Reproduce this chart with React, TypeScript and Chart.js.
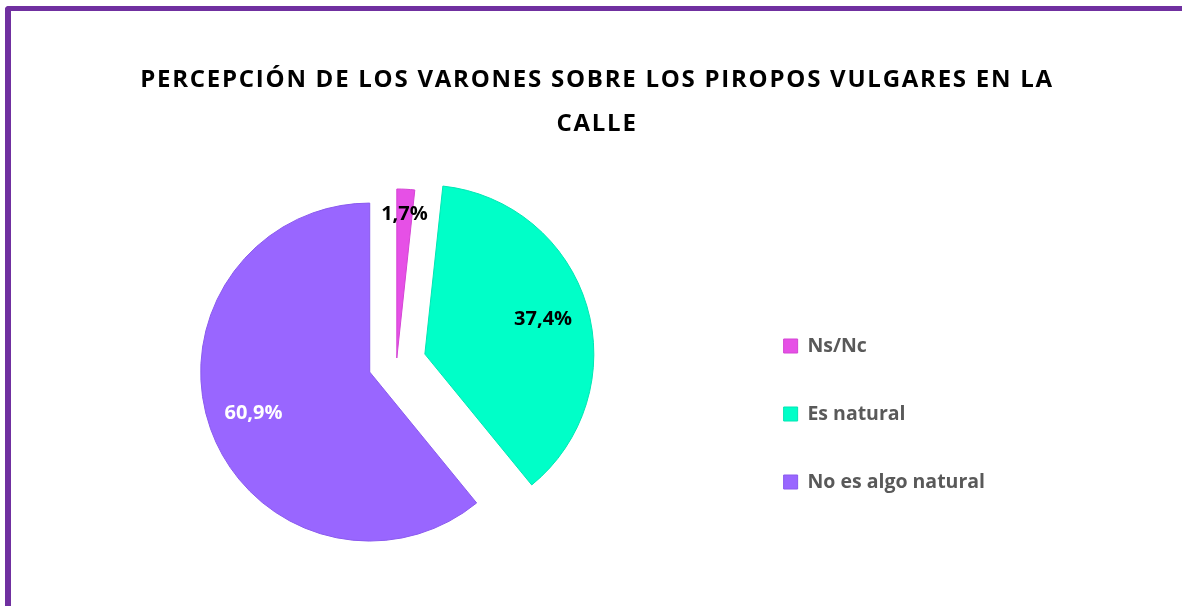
import React, { useEffect, useRef } from 'react';
import { Chart, registerables } from 'chart.js';

Chart.register(...registerables);

// ---- data ----
const categories = ['Ns/Nc', 'Es natural', 'No es algo natural'];
const percentages = [1.7, 37.4, 60.9];
const titleLines = ['PERCEPCIÓN DE LOS VARONES SOBRE LOS PIROPOS VULGARES EN LA', 'CALLE'];

// ---- styles ----
const sliceColors = ['#E650E6', '#00FFC8', '#9966FF'];
const sliceBorders = ['#D445D4', '#00E6B4', '#8A5AEE'];
const labelColors = ['#000000', '#000000', '#FFFFFF'];
const explodeDistance = [4.5, 29.5, 28.5];
const labelRadiusFraction = [0.85, 0.73, 0.73];

const formatPct = (v: number) => v.toFixed(1).replace('.', ',') + '%';

const explodePlugin = {
  id: 'explodeSlices',
  afterDatasetsUpdate(chart: any) {
    const meta = chart.getDatasetMeta(0);
    meta.data.forEach((arc: any, i: number) => {
      const mid = (arc.startAngle + arc.endAngle) / 2;
      const d = explodeDistance[i] || 0;
      arc.x += Math.cos(mid) * d;
      arc.y += Math.sin(mid) * d;
    });
  },
};

const labelPlugin = {
  id: 'sliceLabels',
  afterDatasetsDraw(chart: any) {
    const ctx = chart.ctx;
    const meta = chart.getDatasetMeta(0);
    ctx.save();
    ctx.font = 'bold 20px "Open Sans"';
    ctx.textAlign = 'center';
    ctx.textBaseline = 'middle';
    meta.data.forEach((arc: any, i: number) => {
      const mid = (arc.startAngle + arc.endAngle) / 2;
      const r = arc.outerRadius * labelRadiusFraction[i];
      ctx.fillStyle = labelColors[i];
      ctx.fillText(formatPct(percentages[i]), arc.x + Math.cos(mid) * r, arc.y + Math.sin(mid) * r);
    });
    ctx.restore();
  },
};

const titlePlugin = {
  id: 'titleSpan',
  afterLayout(chart: any) {
    const tb = chart.titleBlock;
    if (!tb) return;
    tb.left = 12;
    tb.right = chart.width;
    if (!tb.__spaced) {
      const orig = tb.draw.bind(tb);
      tb.draw = (area: any) => {
        const ctx = chart.ctx;
        ctx.save();
        (ctx as any).letterSpacing = '1.75px';
        orig(area);
        ctx.restore();
      };
      tb.__spaced = true;
    }
  },
};

export default function App() {
  const canvasRef = useRef<HTMLCanvasElement | null>(null);

  useEffect(() => {
    const canvas = canvasRef.current;
    if (!canvas) return;
    const chart = new Chart(canvas, {
      type: 'pie',
      data: {
        labels: categories,
        datasets: [
          {
            data: percentages,
            backgroundColor: sliceColors,
            borderColor: sliceBorders,
            borderWidth: 1,
          },
        ],
      },
      options: {
        responsive: false,
        animation: false,
        events: [],
        radius: 169,
        layout: { padding: { left: 58, right: 187, top: 0, bottom: 27 } },
        plugins: {
          title: {
            display: true,
            text: titleLines,
            color: '#000000',
            font: { family: 'Open Sans', weight: 'bold', size: 24, lineHeight: '44px' },
            padding: { top: 58, bottom: 0 },
          },
          legend: {
            display: true,
            position: 'right',
            align: 'center',
            fullSize: false,
            title: { display: true, text: ' ', font: { size: 12 }, padding: 44.3 },
            labels: {
              boxWidth: 14,
              boxHeight: 14,
              padding: 48.5,
              color: '#595959',
              font: { family: 'Open Sans', weight: 'bold', size: 19.5 },
            },
          },
          tooltip: { enabled: false },
        },
      } as any,
      plugins: [explodePlugin, labelPlugin, titlePlugin],
    });
    return () => chart.destroy();
  }, []);

  return (
    <div style={{ position: 'absolute', left: 0, top: 0, width: 1182, height: 606, overflow: 'hidden', background: '#FFFFFF' }}>
      <div
        style={{
          position: 'absolute',
          left: 5,
          top: 6,
          width: 1400,
          height: 800,
          borderLeft: '6px solid #7030A0',
          borderTop: '5.5px solid #7030A0',
          borderTopLeftRadius: 4,
          boxSizing: 'border-box',
        }}
      />
      <canvas ref={canvasRef} width={1182} height={606} style={{ position: 'absolute', left: 0, top: 0 }} />
    </div>
  );
}
